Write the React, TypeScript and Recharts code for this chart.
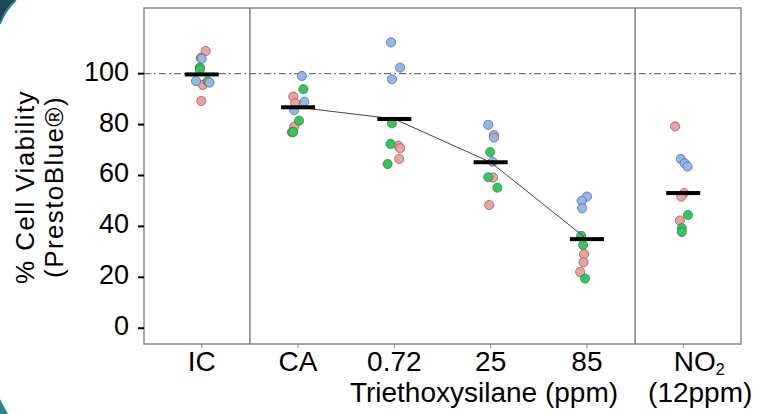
import React from 'react';
import { ComposedChart, Scatter, XAxis, YAxis, ReferenceLine, ReferenceArea } from 'recharts';

const categories = ['IC', 'CA', '0.72', '25', '85', 'NO2'];
const yTicks = [0, 20, 40, 60, 80, 100];

// replicates: [category index, horizontal jitter, % viability]
const pinkReps = [
  [0, 0.04, 108.9], [0, -0.01, 106.2], [0, 0.01, 95.6], [0, -0.005, 89.3],
  [1, -0.05, 91.0], [1, -0.03, 88.4], [1, -0.04, 79.2],
  [2, 0.04, 71.7], [2, 0.06, 70.7], [2, 0.05, 66.5],
  [3, 0.035, 75.9], [3, 0.025, 59.2], [3, -0.015, 48.4],
  [4, -0.03, 29.1], [4, -0.035, 25.9], [4, -0.07, 22.1],
  [5, -0.085, 79.3], [5, 0.01, 53.1], [5, -0.02, 51.7], [5, -0.035, 42.3],
];
const greenReps = [
  [0, -0.02, 102.4], [0, -0.02, 101.5], [0, 0.06, 97.0],
  [1, 0.055, 93.9], [1, 0.01, 81.5], [1, -0.065, 77.0], [1, -0.05, 77.1],
  [2, -0.025, 80.5], [2, -0.04, 72.4], [2, -0.07, 64.5],
  [3, -0.005, 69.2], [3, -0.025, 59.3], [3, 0.07, 55.2],
  [4, -0.06, 36.3], [4, -0.04, 32.7], [4, -0.02, 19.5],
  [5, 0.05, 44.5], [5, -0.015, 39.3], [5, -0.015, 37.8],
];
const blueReps = [
  [0, 0.0, 105.9], [0, -0.06, 97.1], [0, 0.08, 96.5],
  [1, 0.04, 99.1], [1, 0.065, 89.0], [1, -0.04, 85.7],
  [2, -0.035, 112.3], [2, 0.06, 102.4], [2, -0.025, 97.8],
  [3, -0.025, 79.9], [3, 0.035, 74.9], [3, 0.02, 65.4],
  [4, 0.0, 51.7], [4, -0.055, 50.0], [4, -0.05, 47.1],
  [5, -0.025, 66.5], [5, 0.015, 64.8], [5, 0.045, 63.5],
];
const means = [99.7, 86.8, 82.2, 65.2, 35.0, 53.1];
// triethoxysilane dose groups joined by the trend line
const trendGroups = [1, 2, 3, 4];

const toPoints = (reps: number[][]) => reps.map(([g, j, v]) => ({ x: g + j, y: v }));
const meanData = means.map((v, i) => ({ x: i, y: v }));
const trendData = trendGroups.map((i) => ({ x: i, y: means[i] }));

const FONT = '"Liberation Sans", Arial, sans-serif';

const dot = (fill: string) => (p: any) => (
  <circle cx={p.cx} cy={p.cy} r={4.6} fill={fill} stroke="#555" strokeOpacity={0.8} strokeWidth={0.8} />
);

const meanBar = (p: any) => <rect x={p.cx - 17} y={p.cy - 2} width={34} height={4} fill="#000" />;

const XTick = (props: any) => {
  const { x, y, payload } = props;
  const label = categories[payload.value];
  const base = y + 20;
  if (label === 'NO2') {
    return (
      <g fontFamily={FONT} fontSize={28} fill="#000">
        <text x={x + 16} y={base} textAnchor="middle">
          NO<tspan fontSize={16} dy={4}>2</tspan>
        </text>
        <text x={x + 17} y={base + 31} textAnchor="middle">(12ppm)</text>
      </g>
    );
  }
  return (
    <text x={x} y={base} textAnchor="middle" fontFamily={FONT} fontSize={28} fill="#000">
      {label}
    </text>
  );
};

const YTick = (props: any) => {
  const { x, y, payload } = props;
  return (
    <text x={x} y={y + 7} textAnchor="end" fontFamily={FONT} fontSize={27} fill="#000">
      {payload.value}
    </text>
  );
};

const YTitle = (props: any) => {
  const vb = props.viewBox;
  const cy = 187;
  const x1 = vb.x + 33.5;
  const x2 = vb.x + 62.5;
  return (
    <g fontFamily={FONT} fontSize={26} fill="#000" letterSpacing={1.4}>
      <text x={x1} y={cy} textAnchor="middle" transform={`rotate(-90, ${x1}, ${cy})`}>% Cell Viability</text>
      <text x={x2} y={cy} textAnchor="middle" transform={`rotate(-90, ${x2}, ${cy})`}>(PrestoBlue®)</text>
    </g>
  );
};

const XTitle = (props: any) => {
  const vb = props.viewBox;
  return (
    <text x={vb.x + 340} y={vb.y + 58} textAnchor="middle" fontFamily={FONT} fontSize={28} fill="#000">
      Triethoxysilane (ppm)
    </text>
  );
};

const Corners = () => (
  <svg width={757} height={414} style={{ position: 'absolute', left: 0, top: 0 }}>
    <path d="M0,0 L16,0 Q5,10 0,24 Z" fill="#1a4856" />
    <path d="M16,0 Q5,10 0,24" fill="none" stroke="#2d8790" strokeWidth={2} />
    <path d="M0,399 Q4,407 8,414 L0,414 Z" fill="#2a8590" />
  </svg>
);

const App = () => (
  <div style={{ position: 'absolute', left: 0, top: 0, width: 757, height: 414, background: '#fff' }}>
    <Corners />
    <div style={{ position: 'absolute', left: 0, top: 0 }}>
      <ComposedChart width={757} height={414} margin={{ top: 8, right: 16, bottom: 10, left: 0 }}>
        <XAxis
          type="number"
          dataKey="x"
          domain={[-0.6, 5.6]}
          ticks={[0, 1, 2, 3, 4, 5]}
          allowDataOverflow
          height={60}
          axisLine={false}
          tickSize={4}
          tickMargin={3}
          tickLine={{ stroke: '#888', strokeWidth: 1 }}
          tick={<XTick />}
          label={{ content: <XTitle /> }}
        />
        <YAxis
          type="number"
          dataKey="y"
          domain={[-6.2, 125.8]}
          ticks={yTicks}
          allowDataOverflow
          width={144}
          axisLine={false}
          tickSize={6}
          tickMargin={9}
          tickLine={{ stroke: '#000', strokeWidth: 2 }}
          tick={<YTick />}
          label={{ content: <YTitle /> }}
        />
        <ReferenceArea x1={-0.6} x2={5.6} y1={-6.2} y2={125.8} fill="none" stroke="#888" strokeWidth={1.4} ifOverflow="visible" />
        <ReferenceLine x={0.5} stroke="#777" strokeWidth={1.4} />
        <ReferenceLine x={4.5} stroke="#777" strokeWidth={1.4} />
        <ReferenceLine y={100} stroke="#555" strokeWidth={1} strokeDasharray="7 3 2 3" />
        <Scatter data={toPoints(pinkReps)} fill="#f4a09a" shape={dot('#f4a09a')} isAnimationActive={false} />
        <Scatter data={toPoints(greenReps)} fill="#2fcb58" shape={dot('#2fcb58')} isAnimationActive={false} />
        <Scatter data={toPoints(blueReps)} fill="#8db8f2" shape={dot('#8db8f2')} isAnimationActive={false} />
        <Scatter
          data={trendData}
          line={{ stroke: '#444', strokeWidth: 1 }}
          shape={() => <g />}
          isAnimationActive={false}
        />
        <Scatter data={meanData} fill="#000" shape={meanBar} isAnimationActive={false} />
      </ComposedChart>
    </div>
  </div>
);

export default App;
